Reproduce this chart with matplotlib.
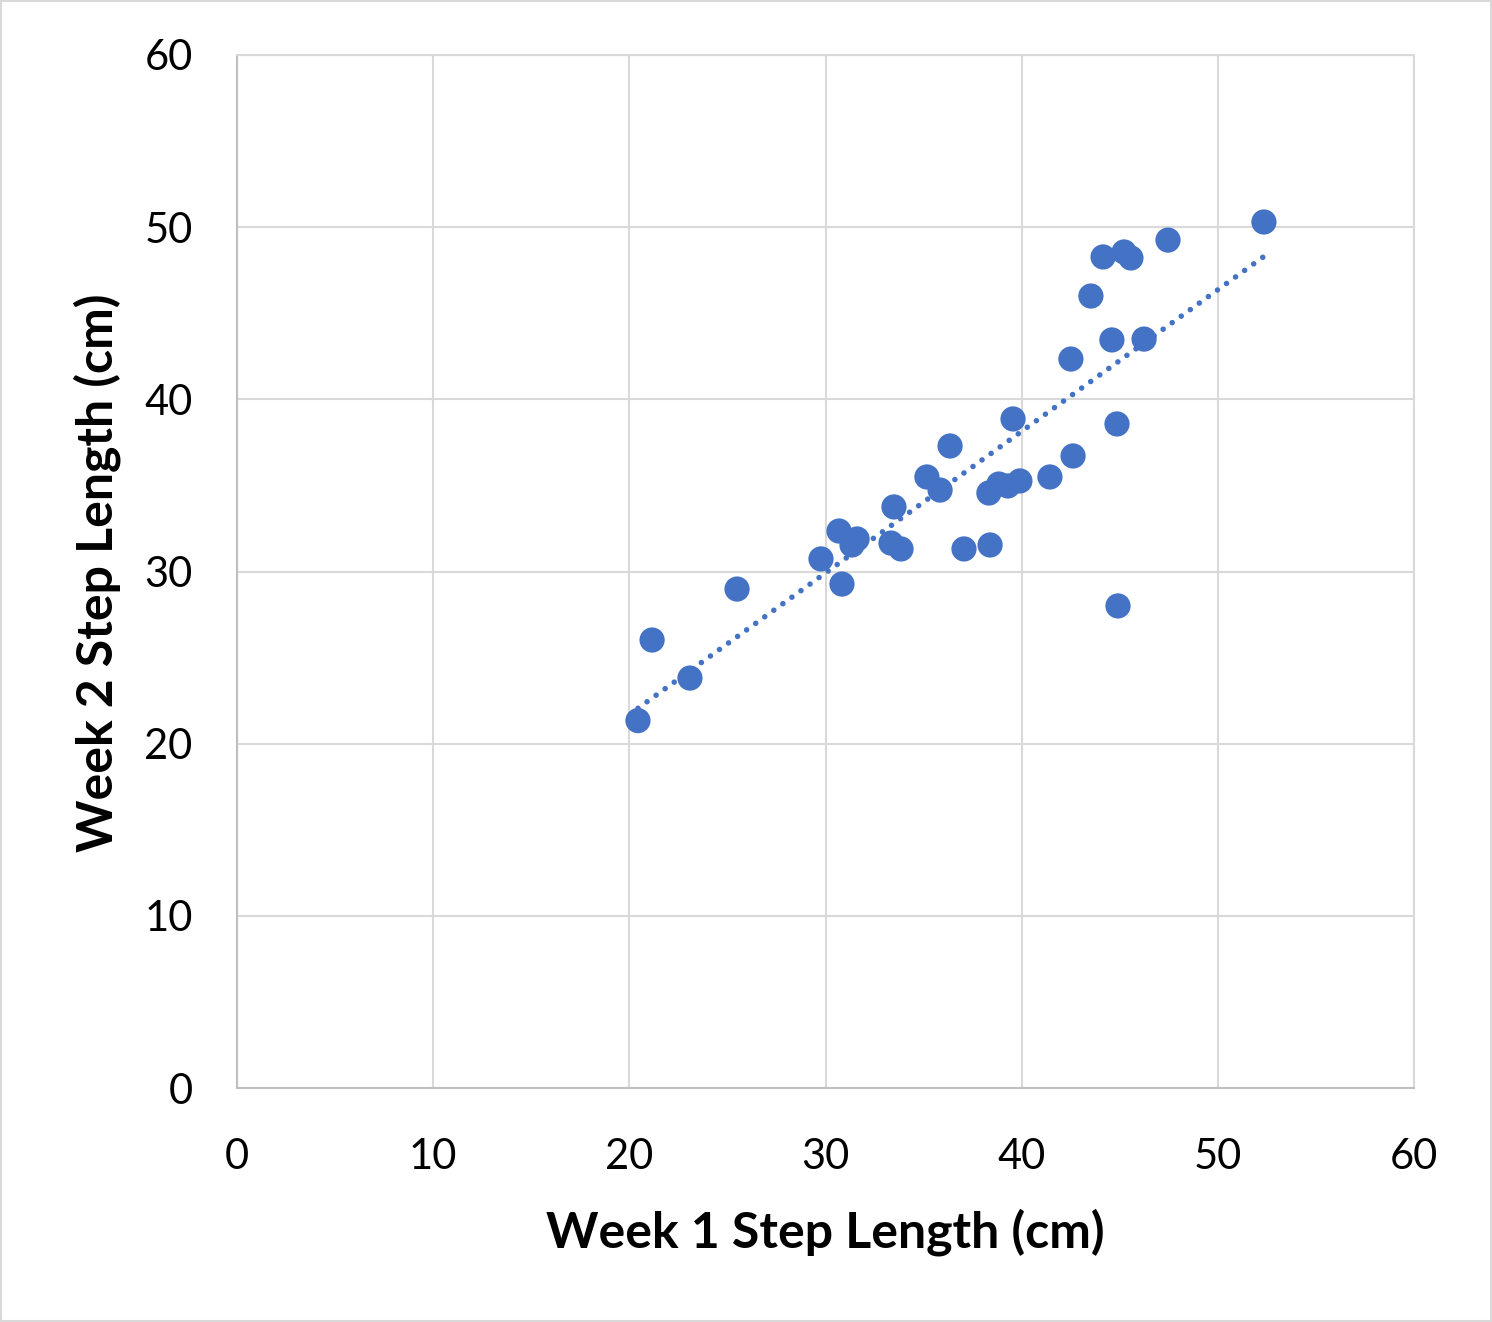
import numpy as np
import matplotlib
matplotlib.use("Agg")
import matplotlib.pyplot as plt
from matplotlib.patches import Rectangle

week1 = [20.44, 21.16, 23.09, 25.49, 29.77, 30.69, 30.84, 31.35, 31.61, 33.34,
         33.85, 33.49, 35.17, 35.84, 36.35, 37.06, 38.33, 38.39, 38.84, 39.30,
         39.56, 39.91, 41.44, 42.51, 42.62, 43.53, 44.15, 44.60, 44.86, 44.91,
         45.22, 45.57, 46.24, 47.46, 52.35]
week2 = [21.34, 26.02, 23.81, 28.98, 30.73, 32.35, 29.27, 31.54, 31.89, 31.65,
         31.31, 33.75, 35.49, 34.73, 37.29, 31.31, 34.56, 31.54, 35.08, 34.97,
         38.86, 35.26, 35.49, 42.34, 36.71, 46.00, 48.27, 43.45, 38.57, 28.00,
         48.56, 48.21, 43.50, 49.25, 50.30]
ticks = [0, 10, 20, 30, 40, 50, 60]
xlabel = "Week 1 Step Length (cm)"
ylabel = "Week 2 Step Length (cm)"

plt.rcParams['font.family'] = ['Lato', 'DejaVu Sans']
color = "#4472C4"
grid = "#D9D9D9"

fig = plt.figure(figsize=(14.92, 13.22), dpi=100)
fig.patches.append(Rectangle((0.001, 0.001), 0.998, 0.998, transform=fig.transFigure,
                             fill=False, edgecolor="#D9D9D9", linewidth=1.5))
ax = fig.add_axes([237/1492, 1 - 1088/1322, (1414-237)/1492, (1088-55)/1322])

ax.set_xlim(0, 60)
ax.set_ylim(0, 60)
ax.set_xticks(ticks)
ax.set_yticks(ticks)
ax.grid(True, color=grid, linewidth=1.5)
ax.set_axisbelow(True)
for s in ax.spines.values():
    s.set_color(grid)
    s.set_linewidth(1.5)
ax.spines['left'].set_color("#BFBFBF")
ax.spines['bottom'].set_color("#BFBFBF")
ax.tick_params(length=0, labelsize=30, pad=32)
ax.tick_params(axis='x', pad=36)

x = np.array(week1)
y = np.array(week2)
m, b = np.polyfit(x, y, 1)
xs = np.array([x.min(), x.max()])
ax.plot(xs, m*xs + b, color=color, linewidth=4, linestyle=(0, (0.01, 2.0)),
        dash_capstyle='round', zorder=2)
ax.scatter(x, y, s=330, color=color, edgecolors='none', zorder=3)

fig.text((237+1414)/2/1492, 1 - 1232/1322, xlabel, ha='center', va='center',
         fontsize=36, fontweight='bold')
fig.text(97/1492, 1 - 573/1322, ylabel, ha='center', va='center',
         fontsize=36, fontweight='bold', rotation=90)

fig.savefig("out.png", dpi=100)
